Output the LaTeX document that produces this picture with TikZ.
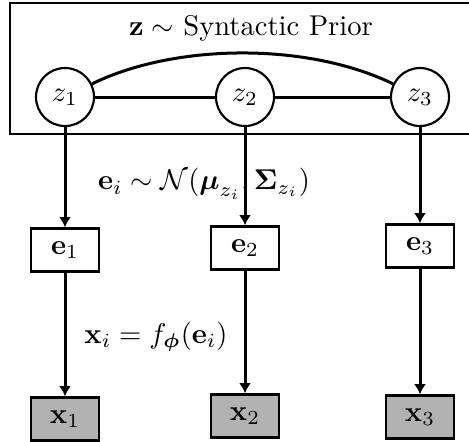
\documentclass[tikz,border=0pt]{standalone}
\usepackage{amsmath,amssymb}
\usepackage{tikz}
\usepackage{xcolor}
\usetikzlibrary{arrows.meta}
\begin{document}
\begin{tikzpicture}[x=0.35pt,y=-0.35pt,>={Latex[length=3.6pt,width=4.2pt]}]
\tikzset{latent/.style={draw,circle,line width=0.75pt,minimum size=20.3pt,inner sep=0pt},
  embed/.style={draw,rectangle,line width=0.85pt,minimum width=23.8pt,minimum height=15pt,inner sep=0pt},
  obs/.style={embed,fill=black!30},
  link/.style={line width=1.05pt}}
\clip (0,0) rectangle (469,441);
\draw[line width=0.85pt] (10,3) rectangle (480,134);
\node (title) at (251,28) {$\mathbf{z}\sim$ Syntactic Prior};
\foreach \i/\cx/\ey/\xy in {1/65/250/419,2/245/248/416,3/420/246/417} {
  \node[latent] (z\i) at (\cx,97) {$z_\i$};
  \node[embed] (e\i) at (\cx,\ey) {$\mathbf{e}_\i$};
  \node[obs] (x\i) at (\cx,\xy) {$\mathbf{x}_\i$};
  \draw[link,->] (z\i) -- (e\i);
  \draw[link,->] (e\i) -- (x\i);
}
\draw[link] (z1) -- (z2);
\draw[link] (z2) -- (z3);
\draw[link] (z1) to[out=26,in=154,looseness=0.8] (z3);
\node (prior) at (204,184) {$\mathbf{e}_i\sim\mathcal{N}(\boldsymbol{\mu}_{z_i},\boldsymbol{\Sigma}_{z_i})$};
\node (decoder) at (156,337) {$\mathbf{x}_i=f_{\boldsymbol{\phi}}(\mathbf{e}_i)$};
\end{tikzpicture}
\end{document}
